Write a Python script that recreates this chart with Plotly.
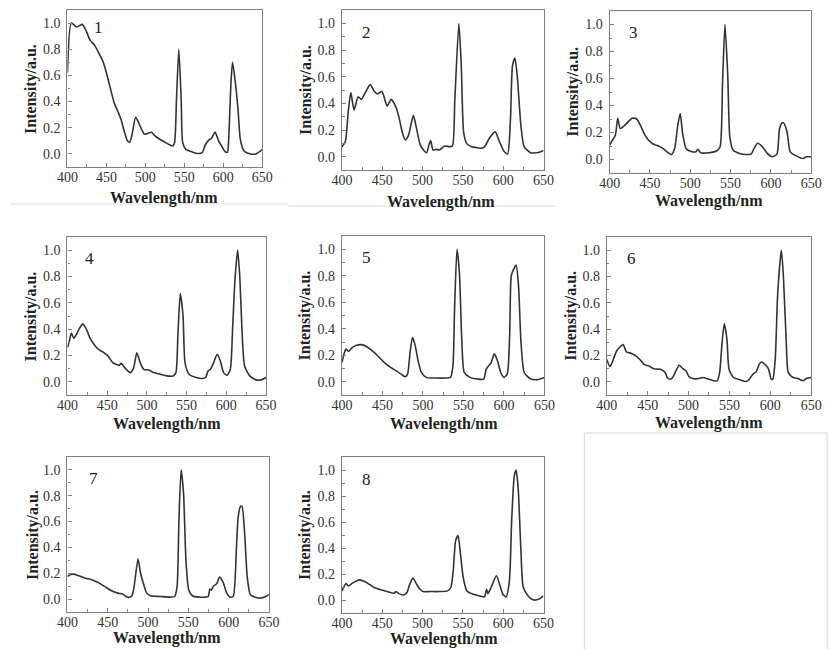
import plotly.graph_objects as go

# Emission spectra of eight samples (normalised intensity vs. wavelength)
wl1 = [400, 405, 412, 419, 424, 429, 435, 442, 446, 450, 456, 460, 465, 469, 473, 477, 480, 483, 487.5,
       492, 495, 499, 504, 508, 512, 519, 525, 531, 535, 537.5, 540, 543, 546, 548, 552, 558, 565, 573,
       577, 582, 585, 589.5, 594, 598, 602, 605.5, 607, 610, 612, 615.5, 619, 622, 627, 635, 642, 650]
int1 = [0.62, 1.0, 0.97, 0.99, 0.94, 0.87, 0.83, 0.75, 0.70, 0.62, 0.48, 0.39, 0.32, 0.26, 0.17, 0.10, 0.09,
        0.15, 0.28, 0.23, 0.19, 0.15, 0.16, 0.165, 0.14, 0.11, 0.09, 0.07, 0.06, 0.085, 0.42, 0.80, 0.42,
        0.085, 0.035, 0.02, 0.005, 0.01, 0.07, 0.11, 0.12, 0.167, 0.10, 0.06, 0.02, 0.013, 0.11, 0.55,
        0.70, 0.55, 0.34, 0.11, 0.02, 0.0, 0.0, 0.033]

wl2 = [400, 404, 408, 411, 415, 420, 424, 428, 435, 440, 444, 449.5, 456, 461, 467, 470.5, 474.5, 478.5,
       482.5, 488.5, 492.5, 497, 501, 505, 508, 510, 513, 517, 521, 527, 533, 537, 540, 545, 548, 551,
       555, 561, 567, 573, 577, 583, 590, 595.5, 601, 605.5, 609, 611.5, 614.5, 617.5, 622, 626, 634,
       642, 650]
int2 = [0.075, 0.11, 0.35, 0.48, 0.35, 0.45, 0.43, 0.47, 0.54, 0.49, 0.47, 0.49, 0.38, 0.43, 0.37, 0.30,
        0.19, 0.125, 0.16, 0.31, 0.21, 0.09, 0.05, 0.03, 0.09, 0.12, 0.05, 0.055, 0.05, 0.08, 0.075, 0.08,
        0.43, 1.0, 0.68, 0.18, 0.096, 0.075, 0.068, 0.063, 0.075, 0.14, 0.186, 0.11, 0.04, 0.02, 0.28,
        0.68, 0.74, 0.60, 0.23, 0.075, 0.03, 0.03, 0.045]

wl3 = [400, 403, 407, 410, 413, 418, 423, 428, 433.5, 438, 443, 448, 454, 460.5, 466.5, 472.5, 476.5,
       480.5, 484.5, 487.5, 490.5, 495, 501, 507, 509.5, 513, 523, 533, 537, 540, 543, 546.5, 549, 553,
       561, 569, 575.5, 579, 583.5, 589.5, 595.5, 601.5, 607.5, 610.5, 613.5, 615.5, 620, 624, 632, 640,
       644, 650]
int3 = [0.107, 0.14, 0.18, 0.305, 0.23, 0.25, 0.28, 0.305, 0.30, 0.255, 0.19, 0.145, 0.115, 0.10, 0.08,
        0.05, 0.037, 0.08, 0.255, 0.34, 0.19, 0.08, 0.06, 0.057, 0.075, 0.05, 0.05, 0.065, 0.094, 0.57,
        1.0, 0.615, 0.17, 0.07, 0.045, 0.037, 0.04, 0.08, 0.12, 0.094, 0.045, 0.02, 0.04, 0.22, 0.27,
        0.273, 0.206, 0.057, 0.025, 0.007, 0.02, 0.02]

wl4 = [400, 402, 405, 408, 412, 416.5, 419, 423, 428.5, 434, 439, 445, 451, 457, 461, 465.5, 467.5, 472,
       476, 479, 483, 487.3, 491.5, 496, 502.5, 508.5, 517, 525, 533, 536.5, 539, 542, 545.5, 548, 553,
       562, 570, 574, 577, 580, 584, 588.5, 592.5, 596.5, 601, 605, 608, 611, 614.3, 617, 620, 623,
       629.5, 637.5, 644, 650]
int4 = [0.26, 0.30, 0.37, 0.33, 0.37, 0.42, 0.44, 0.41, 0.33, 0.28, 0.246, 0.226, 0.196, 0.146, 0.133,
        0.126, 0.14, 0.108, 0.083, 0.07, 0.10, 0.22, 0.146, 0.095, 0.09, 0.07, 0.058, 0.045, 0.045, 0.07,
        0.35, 0.67, 0.50, 0.146, 0.058, 0.033, 0.025, 0.033, 0.083, 0.095, 0.146, 0.21, 0.158, 0.07, 0.05,
        0.095, 0.42, 0.79, 1.0, 0.79, 0.35, 0.12, 0.045, 0.015, 0.015, 0.033]

wl5 = [400, 403, 405, 408, 413, 418, 424, 430, 436, 444, 452, 460, 468, 474, 478, 481, 484, 487, 490,
       494, 498, 504, 516, 528, 534, 537, 539, 542, 545, 548, 551, 558, 568, 575, 578, 581, 584, 588,
       592, 596, 600, 604, 607, 609, 612, 615, 618, 621, 625, 632, 640, 650]
int5 = [0.146, 0.22, 0.246, 0.23, 0.26, 0.276, 0.28, 0.266, 0.24, 0.196, 0.146, 0.108, 0.078, 0.053,
        0.038, 0.058, 0.22, 0.334, 0.284, 0.158, 0.07, 0.033, 0.028, 0.028, 0.033, 0.12, 0.55, 1.0, 0.82,
        0.30, 0.07, 0.033, 0.02, 0.02, 0.095, 0.12, 0.14, 0.21, 0.158, 0.07, 0.033, 0.058, 0.35, 0.80,
        0.85, 0.88, 0.72, 0.30, 0.07, 0.025, 0.015, 0.033]

wl6 = [400, 404, 408, 412, 417, 420, 424, 430, 436, 441, 445.5, 451.5, 457.5, 465.5, 471.5, 474, 477.5,
       480.5, 484.5, 488.5, 493, 497, 500.5, 505, 513, 517, 525, 531, 535, 538, 541, 543.7, 547, 549.5,
       555, 563, 570.5, 574.5, 578.5, 582.5, 586.5, 589, 594.5, 598, 601, 603, 606, 609, 613.5, 616,
       619.5, 622, 628, 634, 640, 644, 650]
int6 = [0.17, 0.115, 0.17, 0.234, 0.27, 0.284, 0.228, 0.216, 0.196, 0.166, 0.133, 0.12, 0.10, 0.095,
        0.07, 0.033, 0.02, 0.033, 0.083, 0.126, 0.10, 0.083, 0.04, 0.025, 0.025, 0.033, 0.02, 0.008, 0.008,
        0.07, 0.30, 0.44, 0.32, 0.095, 0.033, 0.015, 0.003, 0.02, 0.058, 0.075, 0.133, 0.15, 0.126, 0.095,
        0.02, 0.02, 0.17, 0.67, 1.0, 0.80, 0.30, 0.07, 0.033, 0.025, 0.008, 0.025, 0.033]

wl7 = [400, 404, 408, 414, 422, 430, 438, 446, 454, 462.5, 468.5, 472.5, 476.5, 480, 482.7, 487.5, 490.7,
       494, 498, 503, 515, 527, 533, 536, 538.3, 541, 544, 547, 550.4, 555, 563, 571, 574.6, 576.6, 578.6,
       581, 585, 588.7, 593.5, 597.6, 601.6, 605.6, 609.7, 611.7, 614.5, 616.5, 619.8, 623, 627, 634, 640,
       646, 650]
int7 = [0.175, 0.19, 0.193, 0.18, 0.162, 0.15, 0.129, 0.098, 0.067, 0.046, 0.039, 0.02, 0.013, 0.026,
        0.098, 0.31, 0.20, 0.124, 0.05, 0.026, 0.02, 0.015, 0.02, 0.098, 0.61, 1.0, 0.82, 0.30, 0.072,
        0.026, 0.015, 0.015, 0.02, 0.077, 0.07, 0.10, 0.118, 0.17, 0.124, 0.046, 0.015, 0.02, 0.41, 0.63,
        0.715, 0.72, 0.51, 0.175, 0.034, 0.013, 0.008, 0.02, 0.034]

wl8 = [400, 403, 405, 408, 413, 418, 422, 428, 434, 440, 448, 456, 464.5, 467, 470.5, 476.5, 480.5, 484,
       488, 492.7, 496.8, 500.8, 509, 521, 531, 535, 538, 541, 544, 547, 550.4, 555, 563, 571, 576.6,
       579.4, 581, 585, 591.5, 595.6, 599.6, 603.6, 607.7, 610.5, 613.7, 616, 618.5, 621.8, 625, 632,
       638, 644, 650]
int8 = [0.07, 0.108, 0.127, 0.108, 0.13, 0.147, 0.155, 0.142, 0.12, 0.096, 0.078, 0.065, 0.052, 0.065,
        0.049, 0.039, 0.057, 0.12, 0.168, 0.12, 0.083, 0.065, 0.065, 0.065, 0.07, 0.096, 0.225, 0.457,
        0.496, 0.354, 0.173, 0.07, 0.044, 0.031, 0.023, 0.083, 0.049, 0.096, 0.186, 0.12, 0.044, 0.023,
        0.147, 0.61, 0.95, 1.0, 0.87, 0.41, 0.096, 0.023, 0.0, 0.005, 0.031]

sample_labels = ["1", "2", "3", "4", "5", "6", "7", "8"]
wavelengths = [wl1, wl2, wl3, wl4, wl5, wl6, wl7, wl8]
intensities = [int1, int2, int3, int4, int5, int6, int7, int8]

W, H = 830, 649
SERIF = "Liberation Serif"

# plot-area boxes in pixels: (left, right, top, bottom)
boxes = [(58, 258, 10, 167), (340, 547, 10, 170), (615, 822, 11, 173),
         (58, 262, 237, 395), (340, 548, 236, 395), (612, 822, 237, 395),
         (58, 265, 457, 612), (340, 547, 457, 613)]
# x-title centres and y-title x positions, in pixels
xtitle_pos = [(157, 198), (442, 202), (717, 201), (160, 424), (445, 424), (717, 423),
              (160, 638), (445, 639)]
ytitle_x = [20, 303, 577, 21, 302, 575, 22, 302]
# sample number position in data units
num_pos = [(440, 0.97), (430, 0.93), (430, 0.94), (428, 0.94), (430, 0.94), (430, 0.94),
           (432, 0.93), (430, 0.93)]

fig = go.Figure()
annotations = []
for i, (wl, inten, lab) in enumerate(zip(wavelengths, intensities, sample_labels)):
    k = i + 1
    xa = "x" if k == 1 else f"x{k}"
    ya = "y" if k == 1 else f"y{k}"
    fig.add_trace(go.Scatter(
        x=wl, y=inten, mode="lines",
        line=dict(color="#333333", width=1.6, shape="spline", smoothing=0.6),
        xaxis=xa, yaxis=ya, showlegend=False, hoverinfo="skip"))
    l, r, t, b = boxes[i]
    common = dict(showline=True, mirror=True, linecolor="#808080", linewidth=1.2,
                  showgrid=False, zeroline=False, ticks="inside", ticklen=4,
                  tickcolor="#808080", tickwidth=1,
                  tickfont=dict(family=SERIF, size=14, color="#333333"))
    fig.layout[f"xaxis{k if k > 1 else ''}"] = dict(
        domain=[l / W, r / W], range=[400, 650], anchor=ya, tick0=400, dtick=50,
        ticklabelstandoff=-3,
        minor=dict(ticks="inside", ticklen=2.5, dtick=25, tick0=400, tickcolor="#808080"),
        **common)
    fig.layout[f"yaxis{k if k > 1 else ''}"] = dict(
        domain=[1 - b / H, 1 - t / H], range=[-0.1, 1.1], anchor=xa, tick0=0, dtick=0.2,
        tickformat=".1f", ticklabelstandoff=3,
        minor=dict(ticks="inside", ticklen=2.5, dtick=0.1, tick0=0, tickcolor="#808080"),
        **common)
    # sample number inside the panel
    annotations.append(dict(x=num_pos[i][0], y=num_pos[i][1], xref=xa, yref=ya, text=lab,
                            xanchor="center", yanchor="middle", showarrow=False,
                            font=dict(family=SERIF, size=17, color="#222222")))
    # axis titles
    cx, cy = xtitle_pos[i]
    annotations.append(dict(x=cx / W, y=1 - cy / H, xref="paper", yref="paper",
                            xanchor="center", yanchor="middle",
                            text="<b>Wavelength/nm</b>", showarrow=False,
                            font=dict(family=SERIF, size=16, color="#222222")))
    annotations.append(dict(x=ytitle_x[i] / W, y=1 - (t + b) / 2 / H, xref="paper", yref="paper",
                            xanchor="center", yanchor="middle",
                            text="<b>Intensity/a.u.</b>", textangle=-90, showarrow=False,
                            font=dict(family=SERIF, size=16, color="#222222")))

# faint separators between the composed panels
shapes = [
    dict(type="line", xref="paper", yref="paper", x0=0, x1=285 / W, y0=1 - 204 / H, y1=1 - 204 / H,
         line=dict(color="#dcdcdc", width=1)),
    dict(type="line", xref="paper", yref="paper", x0=285 / W, x1=560 / W, y0=1 - 206 / H,
         y1=1 - 206 / H, line=dict(color="#dcdcdc", width=1)),
    dict(type="rect", xref="paper", yref="paper", x0=589 / W, x1=1.01, y0=-0.01, y1=1 - 433 / H,
         line=dict(color="#d8d8d8", width=1), fillcolor="rgba(0,0,0,0)"),
]

fig.update_layout(width=W, height=H, margin=dict(l=0, r=0, t=0, b=0),
                  paper_bgcolor="white", plot_bgcolor="white",
                  annotations=annotations, shapes=shapes)
fig.write_html("out.html")
